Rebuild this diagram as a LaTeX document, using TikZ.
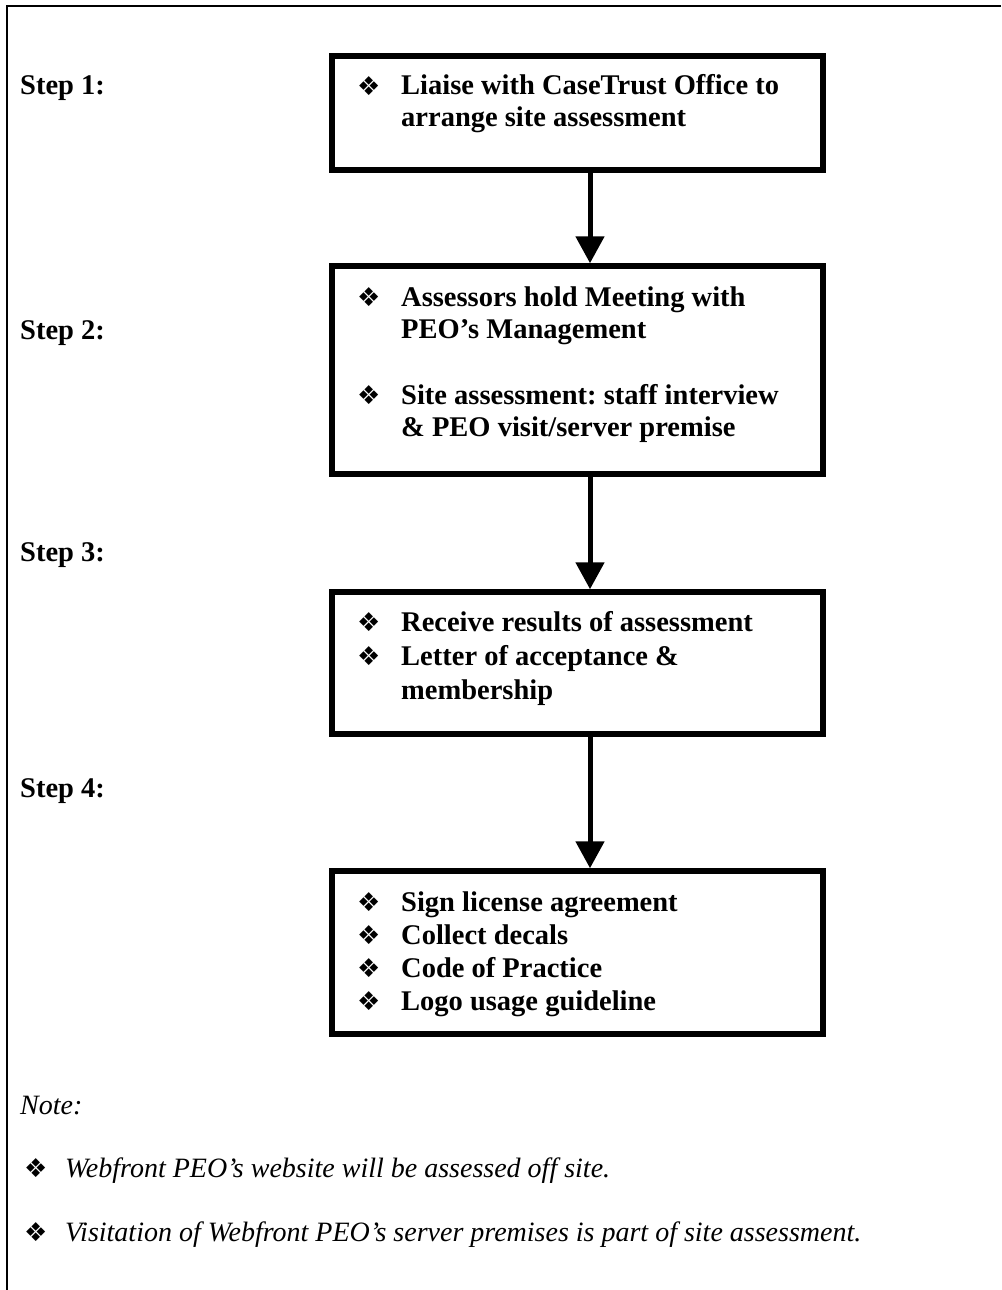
\documentclass[tikz,border=0pt]{standalone}
\usepackage{fontspec}
\setmainfont{Liberation Serif}
\newfontfamily\symfont{DejaVu Sans}
\usetikzlibrary{arrows.meta}
\frenchspacing
\newcommand\mybul[1]{\makebox[#1][l]{\raisebox{-0.5pt}{\symfont\fontsize{26}{26}\selectfont ❖}}}
\begin{document}
\begin{tikzpicture}[x=1pt,y=-1pt,
  stepbox/.style={draw, line width=5.5pt, rectangle, inner sep=0pt, minimum width=491pt},
  flow/.style={line width=5pt, -{Triangle[length=27pt,width=28pt]}},
  txt/.style={anchor=base west, inner sep=0pt, font=\bfseries\fontsize{28.5}{33}\selectfont},
  steplbl/.style={anchor=base west, inner sep=0pt, font=\bfseries\fontsize{28.5}{33}\selectfont},
  notetxt/.style={anchor=base west, inner sep=0pt, font=\itshape\fontsize{28}{33}\selectfont},
  frame/.style={line width=2pt}]
\useasboundingbox (0,0) rectangle (1001,1290);
% outer frame (top and left only)
\coordinate (frTR) at (1001,6.5);
\coordinate (frTL) at (7,6.5);
\coordinate (frBL) at (7,1290);
\draw[frame] (frTR) -- (frTL) -- (frBL);

% boxes
\node[stepbox, minimum height=114pt] (b1) at (577.5,113) {};
\node[stepbox, minimum height=208pt] (b2) at (577.5,370) {};
\node[stepbox, minimum height=142pt] (b3) at (577.5,663) {};
\node[stepbox, minimum height=163pt] (b4) at (577.5,952.5) {};

% arrows
\coordinate (ax) at (590,0);
\draw[flow] (b1.south -| ax) -- (b2.north -| ax);
\draw[flow] (b2.south -| ax) -- (b3.north -| ax);
\draw[flow] (b3.south -| ax) -- (b4.north -| ax);

% step labels
\node[steplbl] (s1) at (20,95) {Step 1:};
\node[steplbl] (s2) at (20,339) {Step 2:};
\node[steplbl] (s3) at (20,561) {Step 3:};
\node[steplbl] (s4) at (20,797) {Step 4:};

% box 1 text
\node[txt] (t1a) at (357,95) {\mybul{44pt}Liaise with CaseTrust Office to};
\node[txt] (t1b) at (401,126) {arrange site assessment};
% box 2 text
\node[txt] (t2a) at (357,306) {\mybul{44pt}Assessors hold Meeting with};
\node[txt] (t2b) at (401,338) {PEO’s Management};
\node[txt] (t2c) at (357,404) {\mybul{44pt}Site assessment: staff interview};
\node[txt] (t2d) at (401,436) {\& PEO visit/server premise};
% box 3 text
\node[txt] (t3a) at (357,631) {\mybul{44pt}Receive results of assessment};
\node[txt] (t3b) at (357,665) {\mybul{44pt}Letter of acceptance \&};
\node[txt] (t3c) at (401,699) {membership};
% box 4 text
\node[txt] (t4a) at (357,911) {\mybul{44pt}Sign license agreement};
\node[txt] (t4b) at (357,944) {\mybul{44pt}Collect decals};
\node[txt] (t4c) at (357,977) {\mybul{44pt}Code of Practice};
\node[txt] (t4d) at (357,1010) {\mybul{44pt}Logo usage guideline};

% note
\node[notetxt] (n0) at (20,1114) {Note:};
\node[notetxt] (n1) at (24,1177) {\mybul{41pt}Webfront PEO’s website will be assessed off site.};
\node[notetxt] (n2) at (24,1241) {\mybul{41pt}Visitation of Webfront PEO’s server premises is part of site assessment.};
\end{tikzpicture}
\end{document}
